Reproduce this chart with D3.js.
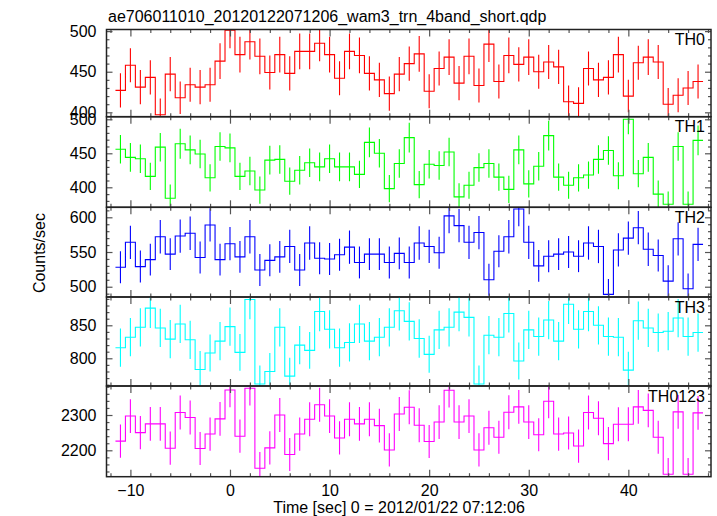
<!DOCTYPE html>
<html><head><meta charset="utf-8">
<script src="https://cdn.jsdelivr.net/npm/d3@7"></script>
<style>
body{margin:0;background:#fff;}
text{font-family:"Liberation Sans",Arial,Helvetica,sans-serif;}
</style>
</head><body>
<svg id="c" width="717" height="516"></svg>
<script>
// ---- data (1-s bins, counts/sec with 1-sigma errors) ----
const time = [-11,-10,-9,-8,-7,-6,-5,-4,-3,-2,-1,0,1,2,3,4,5,6,7,8,9,10,11,12,13,14,15,16,17,18,19,20,21,22,23,24,25,26,27,28,29,30,31,32,33,34,35,36,37,38,39,40,41,42,43,44,45,46,47];
const binWidth = 1;

const th0 = [427,458,431,443,397,447,418,434,431,434,463,501,471,487,469,449,471,448,475,475,485,471,442,475,470,448,440,423,447,460,472,426,454,468,436,469,433,484,438,470,459,468,450,462,456,413,411,454,440,443,471,420,461,468,462,410,421,430,438];
const th0Err = [21,21,21,21,20,21,20,21,21,21,22,22,22,22,22,21,22,21,22,22,22,22,21,22,22,21,21,21,21,21,22,21,21,22,21,22,21,22,21,22,21,22,21,21,21,20,20,21,21,21,22,20,21,22,21,20,21,21,21];

const th1 = [456,444,442,416,459,384,464,455,449,414,460,458,416,424,396,440,441,409,425,436,430,442,430,430,419,466,450,398,435,473,404,434,432,452,386,403,429,435,415,397,455,405,431,476,415,403,414,418,441,454,417,500,420,444,390,375,460,375,469];
const th1Err = [21,21,21,20,21,20,22,21,21,20,21,21,20,21,20,21,21,20,21,21,21,21,21,21,20,22,21,20,21,22,20,21,21,21,20,20,21,21,20,20,21,20,21,22,20,20,20,20,21,21,20,22,20,21,20,19,21,19,22];

const th2 = [528,564,529,539,572,547,573,577,542,589,539,562,543,572,524,538,543,558,524,563,541,540,546,557,535,547,547,535,548,535,563,558,549,602,588,564,578,510,551,572,612,564,530,544,547,550,544,563,558,489,553,570,585,554,545,508,569,497,561];
const th2Err = [23,24,23,23,24,23,24,24,23,24,23,24,23,24,23,23,23,24,23,24,23,23,23,24,23,23,23,23,23,23,24,24,23,25,24,24,24,23,23,24,25,24,23,23,23,23,23,24,24,22,24,24,24,24,23,23,24,22,24];

const th3 = [816,832,847,876,846,829,852,828,783,808,826,848,809,889,761,780,847,773,820,812,871,844,816,824,852,826,832,847,872,856,830,806,843,847,870,862,761,835,832,868,796,843,833,858,826,882,844,871,850,833,832,782,857,846,839,841,861,833,839];
const th3Err = [29,29,29,30,29,29,29,29,28,28,29,29,28,30,28,28,29,28,29,28,30,29,29,29,29,29,29,29,30,29,29,28,29,29,29,29,28,29,29,29,28,29,29,29,29,30,29,30,29,29,29,28,29,29,29,29,29,29,29];

const th0123 = [2226,2297,2250,2275,2275,2206,2307,2293,2205,2246,2289,2371,2240,2376,2149,2207,2300,2188,2246,2288,2329,2297,2235,2288,2275,2288,2270,2201,2303,2322,2271,2225,2280,2370,2280,2297,2201,2264,2237,2308,2323,2280,2244,2339,2246,2249,2212,2307,2291,2219,2274,2274,2323,2313,2237,2132,2309,2132,2306];
const th0123Err = [47,48,47,48,48,47,48,48,47,47,48,49,47,49,46,47,48,47,47,48,48,48,47,48,48,48,48,47,48,48,48,47,48,49,48,48,47,48,47,48,48,48,47,48,47,47,47,48,48,47,48,48,48,48,47,46,48,46,48];

const panelNames = ["TH0","TH1","TH2","TH3","TH0123"];
const panelColors = ["#ff0000","#00ff00","#0000ff","#00ffff","#ff00ff"];
const panelValues = [th0, th1, th2, th3, th0123];
const panelErrors = [th0Err, th1Err, th2Err, th3Err, th0123Err];
const yDomains = [[394.6,502.0],[370.6,503.8],[485.2,614.4],[758.0,892.9],[2125.2,2382.2]];
const yMajorTicks = [[400,450,500],[400,450,500],[500,550,600],[800,850],[2200,2300]];
const yMinorStep = [10,10,10,10,20];
const xMajorTicks = [-10,0,10,20,30,40];
const xMinorStep = 2;
const xDomain = [-12.4, 48.3];

const titleText = "ae706011010_20120122071206_wam3_trn_4band_short.qdp";
const xLabelText = "Time [sec] 0 = 2012/01/22 07:12:06";
const yLabelText = "Counts/sec";

// ---- layout ----
const W = 717, H = 516;
const left = 106.5, right = 711;
const panelTops = [29.5, 116.7, 207.3, 297.0, 386.0];
const plotBottom = 476.7;
const frameColor = "#222";
const tickColor = "#555";

const svg = d3.select("#c");
svg.append("rect").attr("width", W).attr("height", H).attr("fill", "#fff");

const x = d3.scaleLinear().domain(xDomain).range([left, right]);
const xMinorTicks = d3.range(Math.ceil(xDomain[0]/xMinorStep)*xMinorStep, xDomain[1], xMinorStep)
  .filter(v => !xMajorTicks.includes(v));

const defs = svg.append("defs");

panelNames.forEach((name, i) => {
  const top = panelTops[i];
  const bottom = i < panelTops.length - 1 ? panelTops[i+1] : plotBottom;
  const y = d3.scaleLinear().domain(yDomains[i]).range([bottom, top]);
  const g = svg.append("g");

  defs.append("clipPath").attr("id", "clip" + i)
    .append("rect").attr("x", left).attr("y", top).attr("width", right - left).attr("height", bottom - top);

  const vals = panelValues[i], errs = panelErrors[i], col = panelColors[i];
  const dg = g.append("g").attr("clip-path", `url(#clip${i})`);

  // step line through bin edges
  const pts = [];
  time.forEach((t, k) => { pts.push([t - binWidth/2, vals[k]]); pts.push([t + binWidth/2, vals[k]]); });
  const line = d3.line().x(d => x(d[0])).y(d => y(d[1]));
  dg.append("path").attr("d", line(pts)).attr("fill", "none").attr("stroke", col).attr("stroke-width", 1.1);

  // error bars
  dg.selectAll("line.err").data(time).join("line")
    .attr("class", "err")
    .attr("x1", d => x(d)).attr("x2", d => x(d))
    .attr("y1", (d, k) => y(vals[k] - errs[k]))
    .attr("y2", (d, k) => y(vals[k] + errs[k]))
    .attr("stroke", col).attr("stroke-width", 1.1);

  // y ticks (left and right), inward
  const yMinor = d3.range(Math.ceil(yDomains[i][0]/yMinorStep[i])*yMinorStep[i], yDomains[i][1], yMinorStep[i])
    .filter(v => !yMajorTicks[i].includes(v));

  const yl = g.append("g").attr("transform", `translate(${left},0)`)
    .call(d3.axisLeft(y).tickValues(yMajorTicks[i]).tickSize(-6).tickPadding(10).tickFormat(d3.format("d")));
  const ylm = g.append("g").attr("transform", `translate(${left},0)`)
    .call(d3.axisLeft(y).tickValues(yMinor).tickSize(-3).tickFormat(""));
  const yr = g.append("g").attr("transform", `translate(${right},0)`)
    .call(d3.axisRight(y).tickValues(yMajorTicks[i]).tickSize(-6).tickFormat(""));
  const yrm = g.append("g").attr("transform", `translate(${right},0)`)
    .call(d3.axisRight(y).tickValues(yMinor).tickSize(-3).tickFormat(""));

  // x ticks (top and bottom), inward
  const xt = g.append("g").attr("transform", `translate(0,${top})`)
    .call(d3.axisTop(x).tickValues(xMajorTicks).tickSize(-7).tickFormat(""));
  const xtm = g.append("g").attr("transform", `translate(0,${top})`)
    .call(d3.axisTop(x).tickValues(xMinorTicks).tickSize(-3.5).tickFormat(""));
  const isLast = i === panelNames.length - 1;
  const xb = g.append("g").attr("transform", `translate(0,${bottom})`)
    .call(d3.axisBottom(x).tickValues(xMajorTicks).tickSize(-7).tickPadding(8)
      .tickFormat(isLast ? d3.format("d") : ""));
  const xbm = g.append("g").attr("transform", `translate(0,${bottom})`)
    .call(d3.axisBottom(x).tickValues(xMinorTicks).tickSize(-3.5).tickFormat(""));

  [yl, ylm, yr, yrm, xt, xtm, xb, xbm].forEach(a => {
    a.select(".domain").remove();
    a.selectAll(".tick line").attr("stroke", tickColor).attr("stroke-width", 1.2);
    a.selectAll(".tick text").attr("fill", "#000").attr("font-size", 16)
      .attr("font-family", '"Liberation Sans",Arial,sans-serif');
  });

  // frame
  g.append("rect").attr("x", left).attr("y", top).attr("width", right - left).attr("height", bottom - top)
    .attr("fill", "none").attr("stroke", frameColor).attr("stroke-width", 1.5);

  // panel label
  g.append("text").attr("x", 705).attr("y", top + 15.5).attr("text-anchor", "end")
    .attr("font-size", 16).attr("fill", "#000").text(name);
});

// title and axis labels
svg.append("text").attr("x", 108).attr("y", 22).attr("font-size", 16).attr("fill", "#000").text(titleText);
svg.append("text").attr("x", 399).attr("y", 513).attr("text-anchor", "middle").attr("font-size", 16).attr("fill", "#000").text(xLabelText);
svg.append("text").attr("transform", `translate(45,${(panelTops[0]+plotBottom)/2}) rotate(-90)`)
  .attr("text-anchor", "middle").attr("font-size", 16).attr("fill", "#000").text(yLabelText);
</script>
</body></html>
